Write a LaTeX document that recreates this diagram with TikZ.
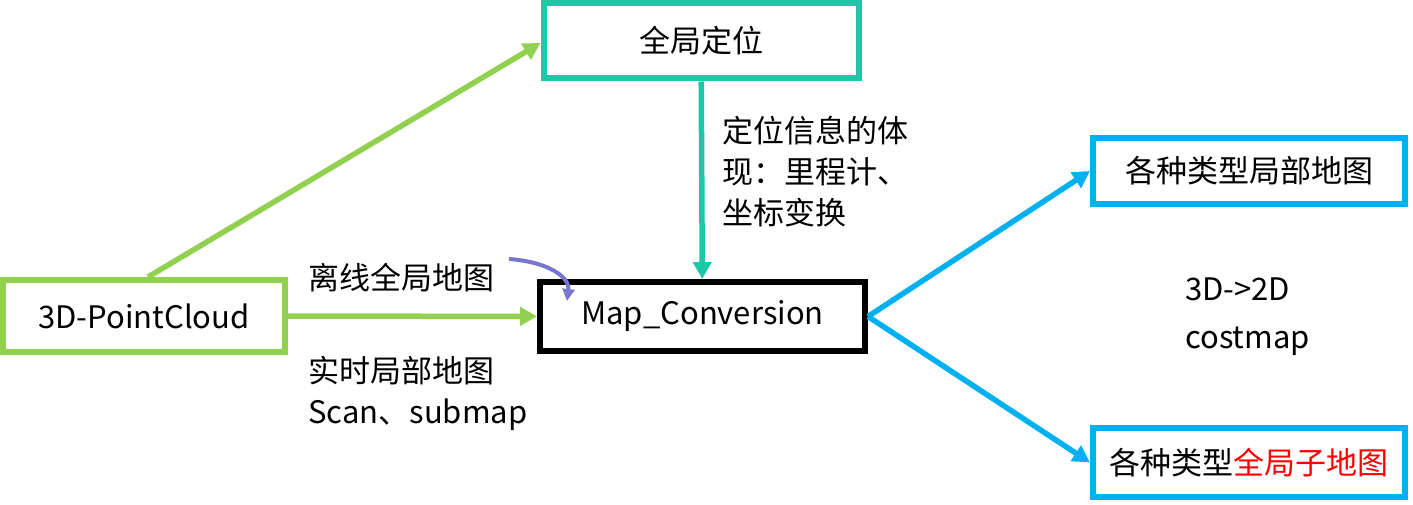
\documentclass[tikz,border=0pt]{standalone}
\usepackage{fontspec}
\setmainfont{Noto Sans CJK SC}
\usetikzlibrary{arrows.meta}
\definecolor{locgreen}{RGB}{146,208,80}
\definecolor{locteal}{RGB}{28,200,168}
\definecolor{mapblue}{RGB}{0,176,240}
\definecolor{hintpurple}{RGB}{122,118,208}
\begin{document}
\begin{tikzpicture}[
        x=1pt, y=-1pt,
        mapbox/.style={draw, rectangle, line width=6pt, align=center, inner sep=0pt, fill=white, font=\fontsize{31}{37}\selectfont},
        note/.style={anchor=west, align=left, inner sep=0pt, font=\fontsize{31}{41}\selectfont},
        arrow/.style={-{Triangle[length=17pt,width=18pt]}, line width=5.5pt}
    ]
    \useasboundingbox (0,0) rectangle (1413,505);

    % --- LEFT: point cloud input ---
    \node[mapbox, draw=locgreen, minimum width=282pt, minimum height=72pt] (pointcloud) at (144,316) {3D-PointCloud};

    % --- TOP: global localisation ---
    \node[mapbox, draw=locteal, minimum width=315pt, minimum height=75pt] (globalloc) at (701,41) {全局定位};

    % --- MIDDLE: conversion ---
    \node[mapbox, draw=black, minimum width=325pt, minimum height=69pt] (mapconv) at (702.5,316.5) {Map\_Conversion};

    % --- RIGHT: output maps ---
    \node[mapbox, draw=mapblue, minimum width=312pt, minimum height=66pt] (localmap) at (1249,171) {各种类型局部地图};
    \node[mapbox, draw=mapblue, minimum width=312pt, minimum height=69pt] (globalsub) at (1249,462.5) {各种类型\textcolor{red}{全局子地图}};

    % --- LABELS ---
    \node[note] (locinfo) at (722,172) {定位信息的体\\现：里程计、\\坐标变换};
    \node[note] (offline) at (308,278) {离线全局地图};
    \node[note] (realtime) at (308,393) {实时局部地图\\Scan、submap};
    \node[note, font=\fontsize{31}{48}\selectfont] (costmap) at (1185,317) {3D->2D\\costmap};

    % --- ARROWS ---
    \draw[arrow, locgreen] (pointcloud.north) ++(4,0) -- (globalloc.west |- 0,43);
    \draw[arrow, locgreen] (pointcloud) -- (mapconv);
    \draw[arrow, locteal] (globalloc) -- (mapconv);
    \draw[arrow, mapblue] (mapconv.east) -- (localmap.west);
    \draw[arrow, mapblue] (mapconv.east) -- (globalsub.west);

    % --- hint for the offline map ---
    \coordinate (hintstart) at (509,259);
    \draw[-{Triangle[length=12pt,width=12pt]}, line width=4pt, hintpurple] (hintstart) .. controls (550,262) and (570,278) .. (567,301);

    \end{tikzpicture}
\end{document}
